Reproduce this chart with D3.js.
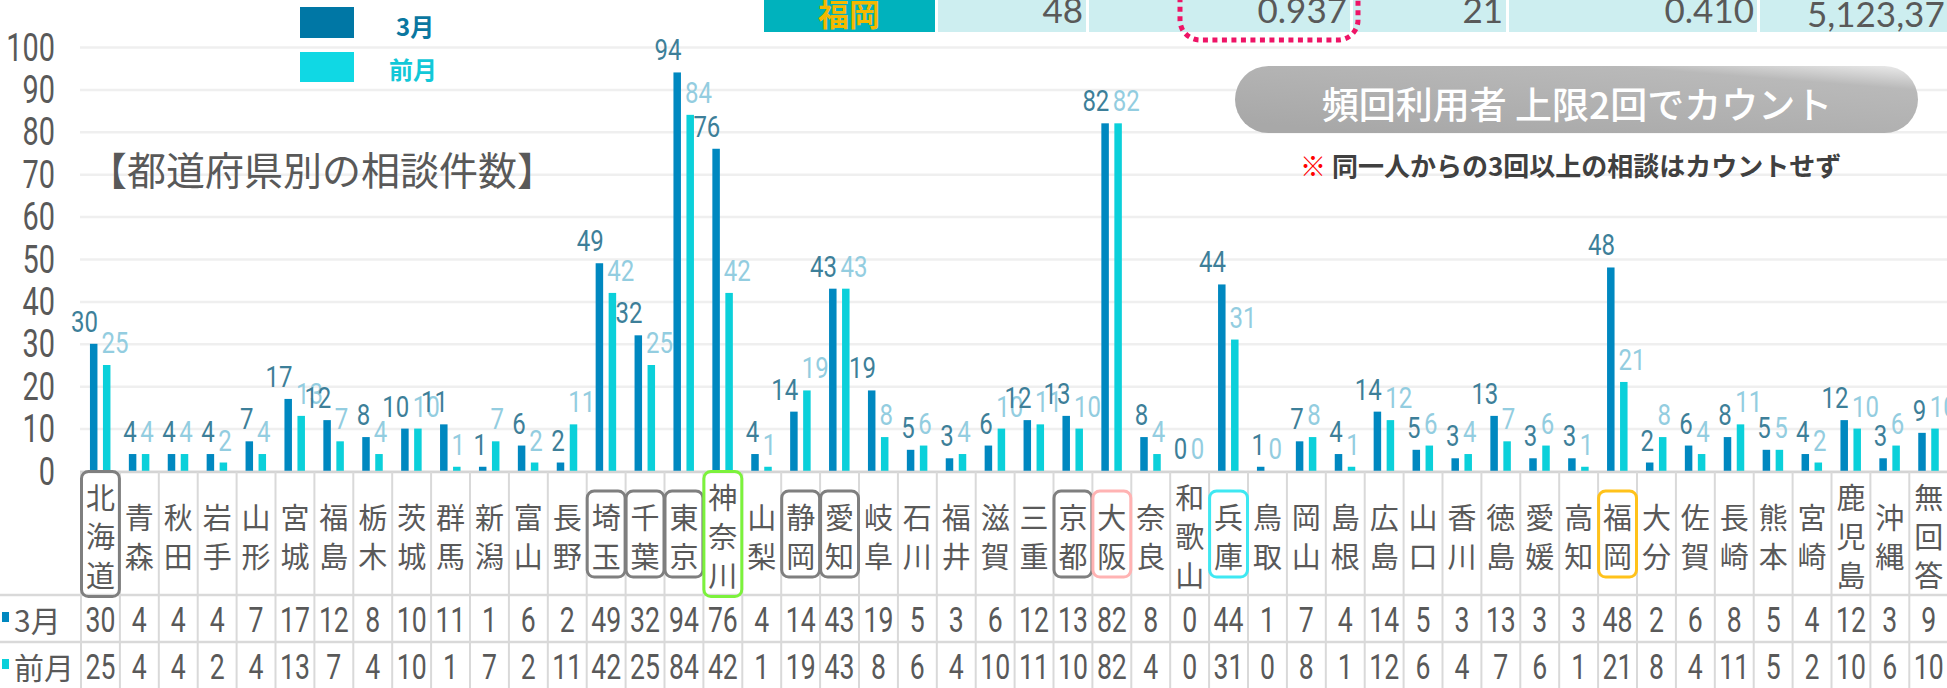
<!DOCTYPE html>
<html>
<head>
<meta charset="utf-8">
<script src="https://cdn.jsdelivr.net/npm/d3@7"></script>
<style>
  body { margin: 0; background: #fff; overflow: hidden; }
</style>
</head>
<body>
<svg id="chart"></svg>
<script>
// data
const categories = ["北海道","青森","秋田","岩手","山形","宮城","福島","栃木","茨城","群馬","新潟","富山","長野","埼玉","千葉","東京","神奈川","山梨","静岡","愛知","岐阜","石川","福井","滋賀","三重","京都","大阪","奈良","和歌山","兵庫","鳥取","岡山","島根","広島","山口","香川","徳島","愛媛","高知","福岡","大分","佐賀","長崎","熊本","宮崎","鹿児島","沖縄","無回答"];
const march = [30,4,4,4,7,17,12,8,10,11,1,6,2,49,32,94,76,4,14,43,19,5,3,6,12,13,82,8,0,44,1,7,4,14,5,3,13,3,3,48,2,6,8,5,4,12,3,9];
const prevMonth = [25,4,4,2,4,13,7,4,10,1,7,2,11,42,25,84,42,1,19,43,8,6,4,10,11,10,82,4,0,31,0,8,1,12,6,4,7,6,1,21,8,4,11,5,2,10,6,10];
const seriesNames = ["3月", "前月"];
const yTicks = [0,10,20,30,40,50,60,70,80,90,100];
const highlights = {
  "北海道": "#7f7f7f", "埼玉": "#7f7f7f", "千葉": "#7f7f7f", "東京": "#7f7f7f",
  "神奈川": "#7cf23c", "静岡": "#7f7f7f", "愛知": "#7f7f7f", "京都": "#7f7f7f",
  "大阪": "#ffb3b3", "兵庫": "#3ee8f2", "福岡": "#ffc21a"
};
const title = "【都道府県別の相談件数】";
const badgeText = "頻回利用者 上限2回でカウント";
const noteText = "同一人からの3回以上の相談はカウントせず";
const stripLabel = "福岡";
const stripValues = ["48", "0.937", "21", "0.410", "5,123,37"];

const W = 1947, H = 688;
const NUM = "Roboto, 'DejaVu Sans', sans-serif";
const JP = "'Noto Sans CJK JP','Noto Sans CJK SC',sans-serif";
const GREY = "#595959";
const colDark = "#0088c0", colLight = "#0bd0da";

const svg = d3.select("#chart").attr("width", W).attr("height", H)
  .style("font-family", JP);

// narrow number text: squeeze horizontally like a condensed face
function numText(g, xp, yp, txt, o) {
  return g.append("text")
    .attr("transform", `translate(${xp},${yp}) scale(${o.sx},1)`)
    .attr("text-anchor", o.anchor || "middle")
    .attr("font-family", NUM).attr("font-weight", o.weight || 400)
    .attr("font-size", o.size).attr("fill", o.fill || GREY)
    .text(txt);
}

const defs = svg.append("defs");
const grad = defs.append("linearGradient").attr("id", "pill")
  .attr("x1", 0.2).attr("y1", 1).attr("x2", 1).attr("y2", 0);
grad.append("stop").attr("offset", 0).attr("stop-color", "#a8a8a8");
grad.append("stop").attr("offset", 0.78).attr("stop-color", "#b9b9b9");
grad.append("stop").attr("offset", 1).attr("stop-color", "#ececec");

// scales
const x = d3.scaleBand().domain(categories).range([81, 81 + 38.9 * categories.length]).padding(0);
const y = d3.scaleLinear().domain([0, 100]).range([471, 47]);
const bw = x.bandwidth();
const cx = d => x(d) + bw / 2;

// top strip (cut-off table from above)
const strip = svg.append("g");
strip.append("rect").attr("x", 764).attr("y", 0).attr("width", 171).attr("height", 32).attr("fill", "#00b2bd");
strip.append("text").attr("x", 849).attr("y", 12).attr("text-anchor", "middle")
  .attr("dominant-baseline", "central").attr("font-size", 31).attr("font-weight", "bold")
  .attr("fill", "#f5b800").text(stripLabel);
const cellEdges = [938, 1089, 1353, 1509, 1760, 1960];
stripValues.forEach((v, i) => {
  strip.append("rect").attr("x", cellEdges[i]).attr("y", 0)
    .attr("width", cellEdges[i + 1] - cellEdges[i] - 3).attr("height", 32).attr("fill", "#cdeef0");
  const last = i === stripValues.length - 1;
  strip.append("text")
    .attr("x", last ? cellEdges[i] + 47 : cellEdges[i + 1] - 6)
    .attr("y", last ? 27 : 23)
    .attr("text-anchor", last ? "start" : "end")
    .attr("font-family", "Lato, 'Noto Sans', sans-serif").attr("font-size", 35)
    .attr("fill", GREY).text(v);
});
svg.append("rect").attr("x", 1180).attr("y", -40).attr("width", 178).attr("height", 80).attr("rx", 20)
  .attr("fill", "none").attr("stroke", "#ee1466").attr("stroke-width", 5).attr("stroke-dasharray", "5 4.5");

// gridlines + y axis
const yAxis = svg.append("g").attr("transform", "translate(80,0)")
  .call(d3.axisLeft(y).tickValues(yTicks).tickSize(-(W - 80)).tickFormat(""));
yAxis.select(".domain").remove();
yAxis.selectAll(".tick line").attr("stroke", "#efefef").attr("stroke-width", 2.5);
yTicks.forEach(t => numText(svg, 55, y(t) + 13.5, t, { anchor: "end", size: 38, sx: 0.76 }));

// badge and note
svg.append("rect").attr("x", 1235).attr("y", 66).attr("width", 683).attr("height", 67).attr("rx", 33.5)
  .attr("fill", "url(#pill)");
svg.append("text").attr("x", 1577).attr("y", 103).attr("text-anchor", "middle")
  .attr("dominant-baseline", "central").attr("font-size", 37).attr("font-weight", 500)
  .attr("fill", "#fff").text(badgeText);
const note = svg.append("text").attr("x", 1300).attr("y", 176).attr("font-size", 26)
  .attr("font-weight", "bold").attr("fill", "#404040");
note.append("tspan").attr("fill", "#ff0000").text("※ ");
note.append("tspan").text(noteText);

// title
svg.append("text").attr("x", 322).attr("y", 168).attr("text-anchor", "middle")
  .attr("dominant-baseline", "central").attr("font-size", 39).attr("fill", GREY).text(title);

// legend
const legend = svg.append("g");
legend.append("rect").attr("x", 300).attr("y", 7).attr("width", 54).attr("height", 31).attr("fill", "#0077a5");
legend.append("rect").attr("x", 300).attr("y", 52).attr("width", 54).attr("height", 30).attr("fill", "#10d8e4");
legend.append("text").attr("x", 396).attr("y", 25).attr("dominant-baseline", "central")
  .attr("font-size", 24).attr("font-weight", "bold").attr("fill", "#0a77a0").text(seriesNames[0]);
legend.append("text").attr("x", 389).attr("y", 68).attr("dominant-baseline", "central")
  .attr("font-size", 24).attr("font-weight", "bold").attr("fill", "#12c8d8").text(seriesNames[1]);

// bars
svg.append("g").selectAll("rect").data(categories).join("rect")
  .attr("x", d => cx(d) - 10.5).attr("width", 7.5)
  .attr("y", (d, i) => y(march[i])).attr("height", (d, i) => y(0) - y(march[i]))
  .attr("fill", colDark);
svg.append("g").selectAll("rect").data(categories).join("rect")
  .attr("x", d => cx(d) + 2.5).attr("width", 7.5)
  .attr("y", (d, i) => y(prevMonth[i])).attr("height", (d, i) => y(0) - y(prevMonth[i]))
  .attr("fill", colLight);

// value labels
const labels = svg.append("g");
categories.forEach((c, i) => {
  numText(labels, cx(c) - 2.5, y(march[i]) - 12, march[i], { anchor: "end", size: 30, sx: 0.8, fill: "#3d7f99" });
  numText(labels, cx(c) + 1, y(prevMonth[i]) - 12, prevMonth[i], { anchor: "start", size: 30, sx: 0.8, fill: "#93cde0" });
});

// data table
const table = svg.append("g");
const lineCol = "#d9d9d9";
table.append("line").attr("x1", 80).attr("x2", W).attr("y1", y(0) + 1).attr("y2", y(0) + 1)
  .attr("stroke", "#d4d4d4").attr("stroke-width", 2.5);
[595, 642].forEach(yy => table.append("line").attr("x1", 0).attr("x2", W).attr("y1", yy).attr("y2", yy)
  .attr("stroke", lineCol).attr("stroke-width", 2.5));
table.selectAll("line.v").data(categories).join("line").attr("class", "v")
  .attr("x1", d => x(d)).attr("x2", d => x(d)).attr("y1", y(0) + 1).attr("y2", H)
  .attr("stroke", lineCol).attr("stroke-width", 2);

const cellMid = 535, pitch = 39;
categories.forEach((c, i) => {
  const chars = Array.from(c);
  const n = chars.length;
  chars.forEach((ch, j) => {
    table.append("text").attr("x", cx(c)).attr("y", cellMid + (j - (n - 1) / 2) * pitch)
      .attr("text-anchor", "middle").attr("dominant-baseline", "central")
      .attr("font-size", 29).attr("fill", GREY).text(ch);
  });
  if (highlights[c]) {
    const h = n * pitch + 8;
    table.append("rect").attr("x", x(c) + 0.5).attr("y", cellMid - 1 - h / 2)
      .attr("width", bw - 1).attr("height", h).attr("rx", 7)
      .attr("fill", "none").attr("stroke", highlights[c]).attr("stroke-width", 3);
  }
  numText(table, cx(c), 632, march[i], { size: 36, sx: 0.74 });
  numText(table, cx(c), 679, prevMonth[i], { size: 36, sx: 0.74 });
});

// row headers
table.append("rect").attr("x", 2).attr("y", 612).attr("width", 7).attr("height", 10).attr("fill", colDark);
table.append("rect").attr("x", 2).attr("y", 659).attr("width", 7).attr("height", 10).attr("fill", colLight);
table.append("text").attr("x", 14).attr("y", 632).attr("font-size", 30).attr("fill", GREY).text(seriesNames[0]);
table.append("text").attr("x", 14).attr("y", 679).attr("font-size", 30).attr("fill", GREY).text(seriesNames[1]);
</script>
</body>
</html>
